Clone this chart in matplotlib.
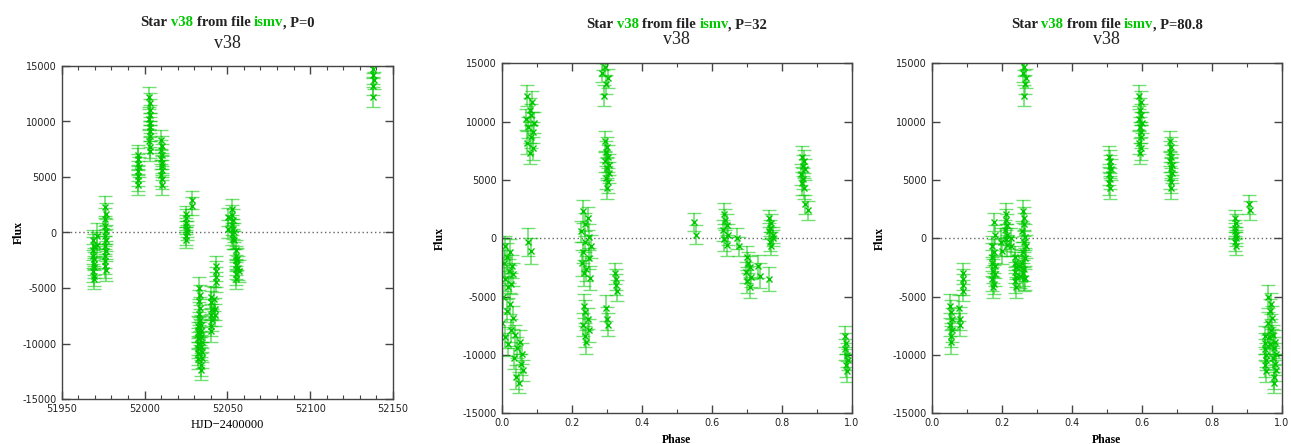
import matplotlib
matplotlib.use("Agg")
import matplotlib.pyplot as plt
import numpy as np
from matplotlib.ticker import MultipleLocator, FormatStrFormatter

W, H = 1291, 444

STAR = "v38"
FILE_NAME = "ismv"
PERIODS = [0, 32, 80.8]
PERIOD_LABELS = ["0", "32", "80.8"]
EPOCHS = [0.0, 51968.66, 51955.08]

hjd = [
    51968.9, 51969.0, 51969.0, 51969.1, 51969.2, 51969.3, 51969.4, 51969.5, 51969.6, 51969.7,
    51971.1, 51971.3,
    51975.9, 51976.0, 51976.1, 51976.1, 51976.2, 51976.3, 51976.3, 51976.4, 51976.5, 51976.6,
    51976.6, 51976.7, 51976.8,
    51996.0, 51996.1, 51996.1, 51996.2, 51996.2, 51996.3, 51996.3, 51996.4,
    52002.9, 52003.0, 52003.0, 52003.1, 52003.2, 52003.2, 52003.3, 52003.3, 52003.4, 52003.5,
    52003.5, 52003.6,
    52010.1, 52010.1, 52010.2, 52010.2, 52010.3, 52010.3, 52010.3, 52010.4, 52010.4, 52010.5,
    52010.5,
    52025.1, 52025.1, 52025.2, 52025.2, 52025.3, 52025.3, 52025.4, 52025.4,
    52028.4, 52028.6,
    52032.0, 52032.0, 52032.1, 52032.1, 52032.2, 52032.2, 52032.3,
    52032.7, 52032.8, 52033.0, 52033.1, 52033.2, 52033.4, 52033.5, 52033.7,
    52033.8, 52033.9, 52034.0, 52034.1, 52034.2, 52034.3, 52034.4, 52034.5, 52034.6,
    52040.1, 52040.2, 52040.3, 52040.3, 52040.4, 52040.5, 52040.6,
    52042.2, 52042.3, 52042.4,
    52043.0, 52043.1, 52043.1, 52043.2,
    52050.2, 52050.4,
    52052.9, 52053.0, 52053.0, 52053.1, 52053.2, 52053.2, 52053.3,
    52054.2, 52054.3,
    52055.0, 52055.1, 52055.1, 52055.2, 52055.3, 52055.3, 52055.4,
    52056.1, 52056.3, 52057.1,
    52137.8, 52137.9, 52138.0, 52138.1, 52138.2, 52138.4,
]
flux = [
    -2100, -700, -3500, -1600, -4200, -2800, -1200, -3900, -2400, -3100,
    -300, -1100,
    600, -2100, 2300, -1200, -3000, 1200, -300, -2600, 1700, -1700,
    100, -3400, -700,
    5500, 7000, 4700, 6200, 5100, 6600, 4300, 5900,
    10200, 8200, 12200, 9500, 11000, 7300, 10600, 8700, 11700, 9100,
    7700, 9900,
    6600, 8300, 5200, 7400, 4300, 6000, 7800, 4800, 7000, 5600,
    6300,
    600, 1700, -300, 900, -700, 1300, 0, 300,
    2900, 2400,
    -9500, -8400, -10900, -9000, -11400, -10000, -10400,
    -7300, -5000, -8500, -6200, -9100, -5600, -7900, -6800,
    -10300, -8300, -11900, -9400, -12400, -8900, -10800, -9900, -11300,
    -7400, -5800, -8400, -6300, -8900, -6900, -7900,
    -6000, -6900, -7400,
    -3000, -3500, -4000, -4500,
    1400, 300,
    700, 2100, -100, 1600, -600, 1100, 300,
    0, -700,
    -2900, -1600, -3700, -2100, -4200, -2500, -3300,
    -2400, -3200, -3500,
    14200, 15200, 12200, 14700, 13200, 13700,
]
flux_err = [
    1100, 900, 1000, 1200, 900, 1000, 1100, 900, 1000, 1000,
    1200, 1100,
    900, 1100, 1000, 900, 1100, 1000, 900, 1100, 1000, 900,
    1100, 1000, 1000,
    900, 900, 1000, 900, 900, 1000, 900, 900,
    900, 1000, 900, 900, 1000, 900, 900, 1000, 900, 900,
    1000, 900,
    900, 900, 1000, 900, 900, 1000, 900, 900, 1000, 900,
    900,
    700, 700, 800, 700, 700, 800, 700, 700,
    800, 800,
    900, 900, 1000, 900, 900, 1000, 900,
    1000, 1000, 900, 1000, 1000, 900, 1000, 1000,
    900, 900, 1000, 900, 900, 1000, 900, 900, 900,
    1000, 1000, 900, 1000, 1000, 900, 1000,
    1100, 1000, 1000,
    900, 900, 900, 900,
    800, 800,
    900, 900, 1000, 900, 900, 1000, 900,
    900, 800,
    900, 900, 1000, 900, 900, 1000, 900,
    1000, 1100, 1000,
    800, 800, 900, 800, 800, 800,
]

GREEN = "#00c800"
BAR_COLOR = (0.0, 0.78, 0.0, 0.55)
AXES_PX = [
    (61.7, 66.0, 393.0, 399.0),
    (501.7, 63.3, 852.0, 413.3),
    (931.7, 63.3, 1281.7, 413.3),
]
YLABEL_X = [-0.111, -0.159, -0.13]
TITLE_Y_PX = [(23, 43.5), (25, 39), (25, 39)]
TITLE_FONT = dict(family="Liberation Serif", fontweight="bold", fontsize=10.5)


def text_width(fig, s, **kw):
    renderer = fig.canvas.get_renderer()
    t = fig.text(0, 0, s, **kw)
    w = t.get_window_extent(renderer).width
    t.remove()
    return w


def colored_line(fig, cx_px, cy_px, parts, **kw):
    full = "".join(s for s, _ in parts)
    left = cx_px - text_width(fig, full, **kw) / 2
    end = 0
    for s, color in parts:
        end += len(s)
        right = left + text_width(fig, full[:end].rstrip(), **kw)
        fig.text(right / W, 1 - cy_px / H, s.strip(), color=color, ha="right",
                 va="center", **kw)


def style_axes(ax, phased):
    ax.set_ylim(-15000, 15000)
    ax.yaxis.set_major_locator(MultipleLocator(5000))
    ax.yaxis.set_major_formatter(FormatStrFormatter("%d"))
    if phased:
        ax.set_xlim(0, 1)
        ax.xaxis.set_major_locator(MultipleLocator(0.2))
        ax.xaxis.set_minor_locator(MultipleLocator(0.1))
        ax.xaxis.set_major_formatter(FormatStrFormatter("%.1f"))
    else:
        ax.set_xlim(51950, 52150)
        ax.xaxis.set_major_locator(MultipleLocator(50))
        ax.xaxis.set_minor_locator(MultipleLocator(10))
        ax.xaxis.set_major_formatter(FormatStrFormatter("%d"))
    ax.tick_params(which="both", direction="in", top=True, right=True,
                   color="#444444", labelsize=7, labelcolor="#222222")
    ax.tick_params(which="major", length=6, width=1)
    ax.tick_params(which="minor", length=3, width=0.8)
    for sp in ax.spines.values():
        sp.set_color("#444444")
        sp.set_linewidth(1.0)
    for lab in ax.get_xticklabels() + ax.get_yticklabels():
        lab.set_family("DejaVu Sans")


t = np.asarray(hjd)
f = np.asarray(flux)
e = np.asarray(flux_err)

fig = plt.figure(figsize=(W / 100, H / 100), dpi=100)

for i, period in enumerate(PERIODS):
    x0, y0, x1, y1 = AXES_PX[i]
    ax = fig.add_axes([x0 / W, 1 - y1 / H, (x1 - x0) / W, (y1 - y0) / H])
    if period:
        x = np.mod((t - EPOCHS[i]) / period, 1.0)
    else:
        x = t
    ax.axhline(0, color="#666666", linestyle=(0, (1, 2)), linewidth=1.0, zorder=1)
    ax.errorbar(x, f, yerr=e, fmt="x", color=GREEN, ecolor=BAR_COLOR,
                elinewidth=1.2, capsize=5, capthick=1.2, markersize=4,
                markeredgewidth=1.0, zorder=2)
    style_axes(ax, phased=bool(period))
    ax.set_ylabel("Flux", family="Liberation Serif", fontweight="bold", fontsize=8.5)
    ax.yaxis.set_label_coords(YLABEL_X[i], 0.5)
    if period:
        ax.set_xlabel("Phase", family="Liberation Serif", fontweight="bold", fontsize=8.5)
    else:
        ax.set_xlabel("HJD\u22122400000", family="Liberation Serif", fontsize=9)

    cx = (x0 + x1) / 2
    ty, sy = TITLE_Y_PX[i]
    colored_line(fig, cx, ty, [("Star ", "#222222"), (STAR, GREEN),
                               (" from file ", "#222222"), (FILE_NAME, GREEN),
                               (", P=" + PERIOD_LABELS[i], "#222222")], **TITLE_FONT)
    fig.text(cx / W, 1 - sy / H, STAR, ha="center", va="center",
             family="Liberation Serif", fontsize=13, color="#222222")

fig.savefig("out.png", dpi=100)
